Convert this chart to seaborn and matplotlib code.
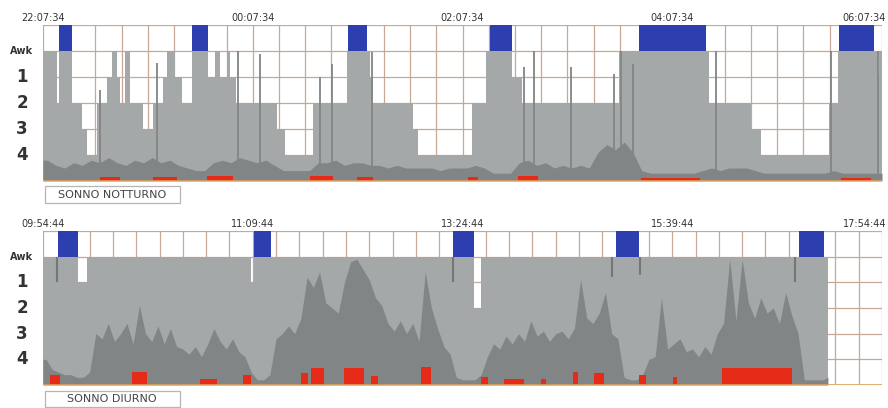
import numpy as np
import pandas as pd
import matplotlib
matplotlib.use('Agg')
import matplotlib.pyplot as plt
import matplotlib.transforms as mtransforms
from matplotlib.patches import Rectangle
import seaborn as sns

# ---------------- data ----------------
stage_labels = ["Awk", "1", "2", "3", "4"]
stage_levels = [0, 1, 2, 3, 4]

# Night (SONNO NOTTURNO): minutes from 22:07:34
night_span = 480
night_ticks = [0, 120, 240, 360, 480]
night_ticklabels = ["22:07:34", "00:07:34", "02:07:34", "04:07:34", "06:07:34"]
night_hyp_t = [0, 8, 9, 16.6, 22.3, 25.2, 31, 36.7, 39.5, 42.4, 44.1, 47, 49.8, 57.3,
               63, 68.7, 71, 75.6, 79.6, 85.3, 94.5, 98.5, 101.4, 105.4, 107.1, 110.5,
               134, 138.6, 154.7, 174.1, 187.3, 189, 211.9, 214.8, 245.7, 253.7, 268.6,
               274, 329.4, 380.9, 405, 410.7, 449.6, 454.8, 477.5, 478.5]
night_hyp_s = [0, 2, 0, 2, 3, 4, 2, 1, 0, 1, 2, 0, 2, 3,
               2, 1, 0, 1, 2, 0, 1, 0, 1, 0, 1, 2,
               3, 4, 2, 0, 1, 2, 3, 4, 2, 0, 1,
               2, 0, 2, 3, 4, 2, 0, 1, 0]
night_hyp_end = 480
night_blue = [(9, 16.6), (85.3, 94.5), (174.7, 185.6), (256, 268.6), (340.8, 379.2), (455.4, 475.4)]
night_dark_step = 5
night_dark = [4.2, 4.4, 4.5, 4.3, 4.4, 4.2, 4.3, 4.1, 4.3, 4.4, 4.2, 4.3,
              4.1, 4.3, 4.2, 4.4, 4.5, 4.6, 4.6, 4.3, 4.2, 4.3, 4.1, 4.2,
              4.3, 4.2, 4.4, 4.6, 4.6, 4.6, 4.6, 4.3, 4.3, 4.2, 4.4, 4.3,
              4.3, 4.4, 4.4, 4.5, 4.4, 4.5, 4.5, 4.5, 4.5, 4.6, 4.5, 4.5,
              4.5, 4.4, 4.5, 4.7, 4.7, 4.7, 4.3, 4.2, 4.4, 4.3, 4.5, 4.4,
              4.5, 4.4, 4.5, 3.9, 3.6, 3.8, 3.5, 3.9, 4.6, 4.7, 4.7, 4.7,
              4.7, 4.7, 4.7, 4.6, 4.5, 4.6, 4.5, 4.5, 4.5, 4.6, 4.7, 4.7,
              4.7, 4.7, 4.7, 4.7, 4.7, 4.7, 4.6, 4.7, 4.7, 4.7, 4.7, 4.7]
night_spike_t = [32.6, 65.3, 111.7, 124.3, 158.7, 165.5, 188.5, 275, 280.7, 301.9,
                 326.5, 330.5, 337.4, 385, 450.8, 477.7]
night_spike_v = [1.5, 0.45, 0.0, 0.1, 1.0, 0.5, 0.05, 0.6, 0.0, 0.6,
                 0.9, 0.0, 0.5, 0.0, 0.0, 0.0]
night_dip_t = []
night_dip_v = []
night_red = [(32.6, 44.1, 4.85), (63, 76.8, 4.85), (93.9, 108.8, 4.8), (152.9, 166.1, 4.8),
             (179.9, 189, 4.85), (242.9, 248.6, 4.85), (271.5, 283, 4.8), (342, 376, 4.9),
             (456.5, 473.7, 4.9)]

# Day (SONNO DIURNO)
day_span = 540
day_ticks = [0, 135, 270, 405, 540]
day_ticklabels = ["09:54:44", "11:09:44", "13:24:44", "15:39:44", "17:54:44"]
day_hyp_t = [0, 8.4, 9.4, 22.6, 28.4, 133.6, 135.5, 277.4, 282]
day_hyp_s = [0, 1, 0, 1, 0, 1, 0, 2, 0]
day_hyp_end = 505.2
day_blue = [(9.7, 22.6), (135.5, 146.5), (263.9, 277.4), (369, 383.9), (486.5, 502.6)]
day_dark_step = 4
day_dark = [4.0, 4.4, 4.5, 4.6, 4.6, 4.7, 4.7, 4.5,
            3.0, 3.2, 2.6, 3.3, 3.0, 2.6, 3.4, 1.9,
            3.0, 3.3, 2.7, 3.4, 2.8, 3.5, 3.6, 3.8,
            3.5, 3.9, 3.4, 2.8, 3.3, 3.6, 3.2, 3.7,
            3.9, 4.5, 4.8, 4.8, 4.6, 3.2, 3.0, 2.7,
            3.0, 2.4, 0.8, 1.2, 0.6, 1.8, 2.0, 2.2,
            1.0, 0.2, 0.1, 0.5, 0.9, 1.6, 1.9, 2.6,
            2.9, 2.5, 3.0, 2.6, 3.3, 0.6, 2.0, 2.8,
            3.5, 3.8, 4.7, 4.8, 4.8, 4.8, 4.6, 3.9,
            3.4, 3.6, 3.1, 3.4, 3.0, 3.3, 2.5, 3.1,
            2.9, 3.3, 3.0, 2.9, 3.2, 2.8, 0.9, 2.4,
            2.6, 2.2, 1.4, 3.0, 3.2, 4.7, 4.8, 4.8,
            4.6, 4.0, 3.9, 1.6, 3.6, 3.4, 3.2, 3.7,
            3.6, 3.9, 3.5, 3.8, 3.0, 2.6, 0.1, 2.5,
            0.1, 1.8, 2.4, 1.6, 2.2, 2.0, 2.6, 1.4,
            2.3, 3.0, 4.8, 4.8, 4.8, 4.8, 4.7]
day_spike_t = []
day_spike_v = []
day_dip_t = [8.9, 263.9, 366.5, 384.5, 483.8]
day_dip_v = [1.0, 1.0, 0.8, 0.7, 1.0]
day_red = [(4.5, 11, 4.6), (57.4, 67.1, 4.5), (101.3, 112.3, 4.75), (129, 133.6, 4.6),
           (165.8, 170.3, 4.55), (172.3, 180.7, 4.35), (193.6, 206.5, 4.35), (211, 215.5, 4.65),
           (243.2, 249.7, 4.3), (282, 286.5, 4.7), (296.8, 309.7, 4.75), (320.7, 323.9, 4.75),
           (341.3, 344.5, 4.5), (354.9, 361.3, 4.55), (383.9, 388.4, 4.6), (405.8, 408, 4.7),
           (436.8, 482, 4.35)]

# ---------------- style ----------------
C_GRAY = '#a4a8a8'
C_DARK = '#818585'
C_BLUE = '#2d3fae'
C_RED = '#e62a18'
C_GRID = '#c6a898'
C_BASE = '#d9a060'

sns.set_theme(style='white')
plt.rcParams['font.family'] = ['DejaVu Sans']

fig = plt.figure(figsize=(8.88, 4.08), dpi=100)
W, H = 888.0, 408.0
ax_top = fig.add_axes([43 / W, 1 - 181 / H, 839 / W, 156 / H])
ax_bot = fig.add_axes([43 / W, 1 - 385 / H, 839 / W, 154 / H])


def draw_panel(ax, span, ticks, ticklabels, hyp_t, hyp_s, hyp_end, blue,
               dark, dark_step, spike_t, spike_v, dip_t, dip_v, red):
    ax.set_xlim(0, span)
    ax.set_ylim(5, -1)
    for s in ax.spines.values():
        s.set_visible(False)
    ax.set_xticks([])
    ax.set_yticks([])
    # grid
    for v in np.arange(0, span + 0.01, 15):
        ax.axvline(v, color=C_GRID, lw=0.9, zorder=0)
    for h in range(-1, 5):
        ax.axhline(h, color=C_GRID, lw=0.9, zorder=0)
    ax.axhline(5, color=C_BASE, lw=1.2, zorder=6)
    # hypnogram
    t = list(hyp_t) + [hyp_end]
    s = list(hyp_s) + [hyp_s[-1]]
    ax.fill_between(t, s, 5, step='post', color=C_GRAY, lw=0, zorder=1)
    # dark overlay (values at bin centres, joined by straight segments)
    n = len(dark)
    centres = (np.arange(n) + 0.5) * dark_step
    dt = np.concatenate([[0], centres, [hyp_end]])
    dt = np.minimum(dt, hyp_end)
    dv = np.concatenate([[dark[0]], dark, [dark[-1]]])
    df = pd.DataFrame({'t': dt, 'v': dv})
    ax.fill_between(df['t'], df['v'], 5, color=C_DARK, lw=0, zorder=2)
    if spike_t:
        ax.vlines(spike_t, spike_v, 5, color=C_DARK, lw=1.3, zorder=2)
    if dip_t:
        ax.vlines(dip_t, 0, dip_v, color='#737777', lw=1.5, zorder=2)
    # red
    for (a, b, lv) in red:
        ax.fill_between([a, b], [lv, lv], 5, color=C_RED, lw=0, zorder=3)
    # blue
    for (a, b) in blue:
        ax.add_patch(Rectangle((a, -1), b - a, 1, facecolor=C_BLUE, edgecolor='none', zorder=4))
    # y labels
    tr = mtransforms.blended_transform_factory(ax.transAxes, ax.transData)
    for lab, lv in zip(stage_labels, stage_levels):
        if lab == "Awk":
            ax.text(-0.026, lv, lab, transform=tr, ha='center', va='center',
                    fontsize=7, fontweight='bold', color='#333333')
        else:
            ax.text(-0.025, lv, lab, transform=tr, ha='center', va='center',
                    fontsize=12, fontweight='bold', color='#333333')
    # time labels
    for i, (tk, lab) in enumerate(zip(ticks, ticklabels)):
        if i == len(ticks) - 1:
            trans = mtransforms.offset_copy(ax.transData, fig=fig, x=3, y=0, units='points')
            ax.text(tk, -1.08, lab, transform=trans, ha='right', va='bottom',
                    fontsize=7, color='#333333', clip_on=False)
        else:
            ax.text(tk, -1.08, lab, ha='center', va='bottom', fontsize=7,
                    color='#333333', clip_on=False)


draw_panel(ax_top, night_span, night_ticks, night_ticklabels, night_hyp_t, night_hyp_s,
           night_hyp_end, night_blue, night_dark, night_dark_step, night_spike_t,
           night_spike_v, night_dip_t, night_dip_v, night_red)
draw_panel(ax_bot, day_span, day_ticks, day_ticklabels, day_hyp_t, day_hyp_s,
           day_hyp_end, day_blue, day_dark, day_dark_step, day_spike_t,
           day_spike_v, day_dip_t, day_dip_v, day_red)

# caption boxes
for (y0, y1, txt) in [(186, 203, "SONNO NOTTURNO"), (391, 407, "SONNO DIURNO")]:
    fig.patches.append(Rectangle((45 / W, 1 - y1 / H), 135 / W, (y1 - y0) / H,
                                 transform=fig.transFigure, facecolor='white',
                                 edgecolor='#b5b5b5', lw=0.9))
    fig.text(112 / W, 1 - (y0 + y1) / 2 / H, txt, ha='center', va='center',
             fontsize=8, color='#444444')

fig.savefig('out.png', dpi=100, facecolor='white')
